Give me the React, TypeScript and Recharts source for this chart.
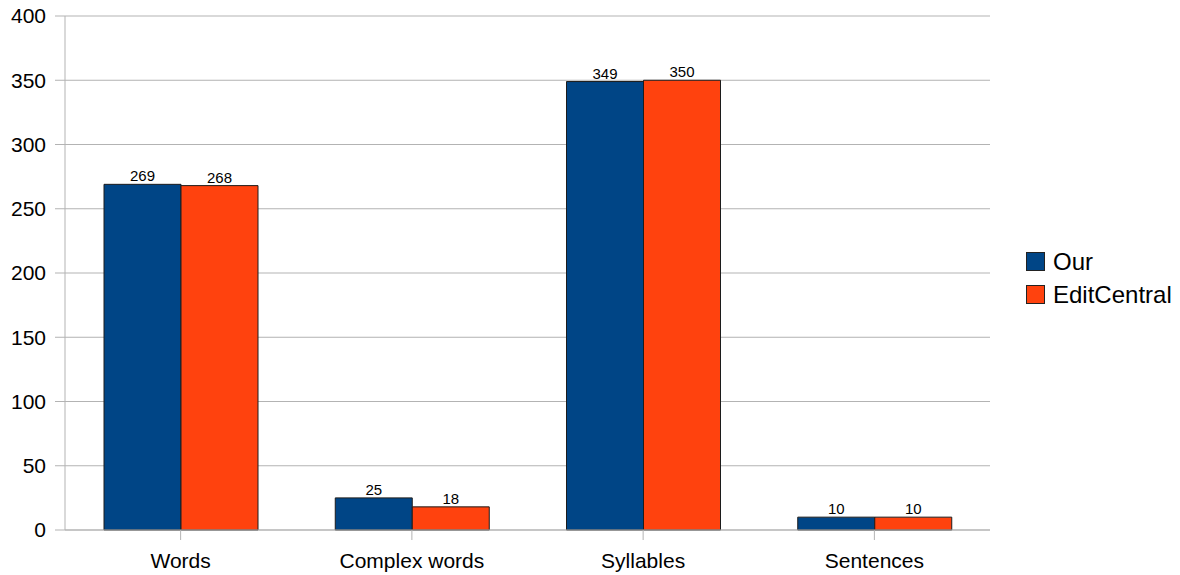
import { Bar, BarChart, CartesianGrid, LabelList, Legend, XAxis, YAxis } from 'recharts'

const categories = ['Words', 'Complex words', 'Syllables', 'Sentences']
const ourValues = [269, 25, 349, 10]
const editCentralValues = [268, 18, 350, 10]
const yTicks = [0, 50, 100, 150, 200, 250, 300, 350, 400]

const seriesNames = ['Our', 'EditCentral']
const colors = ['#004586', '#ff420e']

const data = categories.map((name, i) => ({
  name,
  our: ourValues[i],
  editCentral: editCentralValues[i],
}))

const font = '"Liberation Sans", Arial, sans-serif'
const grid = '#b3b3b3'

function LegendBox() {
  return (
    <div style={{ fontFamily: font, fontSize: 24, color: '#000' }}>
      {seriesNames.map((n, i) => (
        <div key={n} style={{ display: 'flex', alignItems: 'center', height: 33 }}>
          <span
            style={{
              display: 'inline-block',
              width: 17,
              height: 17,
              background: colors[i],
              border: '1px solid #222',
              marginRight: 8,
            }}
          />
          <span>{n}</span>
        </div>
      ))}
    </div>
  )
}

export default function App() {
  return (
    <div style={{ position: 'absolute', left: 0, top: 0, background: '#fff' }}>
      <BarChart
        width={1180}
        height={575}
        data={data}
        margin={{ top: 16, right: 0, left: 0, bottom: 0 }}
        barGap={0}
      >
        <CartesianGrid vertical={false} stroke={grid} />
        <XAxis
          dataKey='name'
          height={45}
          stroke={grid}
          tickSize={10}
          tickMargin={13}
          tick={{ fill: '#000', fontSize: 21, fontFamily: font }}
        />
        <YAxis
          width={65}
          domain={[0, 400]}
          ticks={yTicks}
          stroke={grid}
          tickSize={10}
          tickMargin={9}
          interval={0}
          tick={{ fill: '#000', fontSize: 21, fontFamily: font }}
        />
        <YAxis yAxisId='right' orientation='right' width={0} tick={false} stroke={grid} />
        <Legend
          content={<LegendBox />}
          layout='vertical'
          align='right'
          verticalAlign='middle'
          wrapperStyle={{ position: 'absolute', left: 1026, top: 245, width: 190 }}
        />
        <Bar dataKey='our' name={seriesNames[0]} fill={colors[0]} stroke='#1c1c1c' strokeWidth={1} barSize={77} isAnimationActive={false}>
          <LabelList dataKey='our' position='top' offset={3} fill='#000' fontSize={15} fontFamily={font} />
        </Bar>
        <Bar dataKey='editCentral' name={seriesNames[1]} fill={colors[1]} stroke='#1c1c1c' strokeWidth={1} barSize={77} isAnimationActive={false}>
          <LabelList dataKey='editCentral' position='top' offset={3} fill='#000' fontSize={15} fontFamily={font} />
        </Bar>
      </BarChart>
    </div>
  )
}
